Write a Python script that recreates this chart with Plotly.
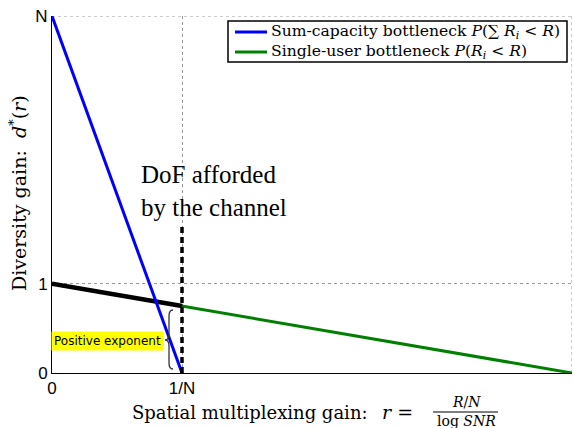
import plotly.graph_objects as go

N = 4
# Sum-capacity bottleneck line
r_sum = [0, 0.25]
d_sum = [4, 0]
# Single-user bottleneck line
r_single = [0, 1]
d_single = [1, 0]
# Overall DMT (black, thick)
r_opt = [0, 0.25]
d_opt = [1, 0.75]
# DoF afforded by the channel (dashed)
r_dof = [0.25, 0.25]
d_dof = [0, 1.66]

x_tickvals = [0, 0.25, 1]
x_ticktext = ["0", "1/N", "1"]
y_tickvals = [0, 1, 4]
y_ticktext = ["0", "1", "N"]

series_names = ["Sum-capacity bottleneck <i>P</i>(∑ <i>R<sub>i</sub></i> &lt; <i>R</i>)",
                "Single-user bottleneck <i>P</i>(<i>R<sub>i</sub></i> &lt; <i>R</i>)"]
series_colors = ["#0000ff", "#008000"]

W, H = 574, 428
L, R, T, B = 52, 2, 16, 55
pw, ph = W - L - R, H - T - B

def px(x):
    return (x - L) / pw

def py(y):
    return (H - B - y) / ph

TIMES = "Liberation Serif, Times New Roman, serif"
CM = "DejaVu Serif, serif"
SANS = "Liberation Sans, Arial, sans-serif"

fig = go.Figure()
fig.add_trace(go.Scatter(x=r_single, y=d_single, mode="lines",
                         line=dict(color=series_colors[1], width=3),
                         name=series_names[1], showlegend=False))
fig.add_trace(go.Scatter(x=r_opt, y=d_opt, mode="lines",
                         line=dict(color="black", width=4.5), showlegend=False))
fig.add_trace(go.Scatter(x=r_sum, y=d_sum, mode="lines",
                         line=dict(color=series_colors[0], width=3),
                         name=series_names[0], showlegend=False))
fig.add_trace(go.Scatter(x=r_dof, y=d_dof, mode="lines",
                         line=dict(color="black", width=3.5, dash="6px,4px"),
                         showlegend=False))

annotations = []
shapes = []

# Legend (drawn as a box with samples and labels)
shapes.append(dict(type="rect", xref="paper", yref="paper",
                   x0=px(228), x1=px(567), y0=py(62), y1=py(21),
                   fillcolor="white", line=dict(color="black", width=1.5), layer="above"))
for i, (nm, col) in enumerate(zip(series_names, series_colors)):
    yc = 32 + 20 * i
    shapes.append(dict(type="line", xref="paper", yref="paper",
                       x0=px(235), x1=px(267), y0=py(yc), y1=py(yc),
                       line=dict(color=col, width=3), layer="above"))
    annotations.append(dict(xref="paper", yref="paper", x=px(269), y=py(yc),
                            xanchor="left", yanchor="middle", showarrow=False,
                            text=nm, font=dict(family=CM, size=15.6, color="black")))

# DoF text
annotations.append(dict(xref="paper", yref="paper", x=px(139), y=py(191),
                        xanchor="left", yanchor="middle", showarrow=False, align="left",
                        text="DoF afforded<br>by the channel",
                        font=dict(family=TIMES, size=25, color="black")))
# Positive exponent box
annotations.append(dict(xref="paper", yref="paper", x=px(107), y=py(341),
                        xanchor="center", yanchor="middle", showarrow=False,
                        text="Positive exponent", bgcolor="#ffff00",
                        borderpad=2,
                        font=dict(family="DejaVu Sans", size=12, color="black")))
# Brace (thin curly bracket)
bx, by_top, by_mid, by_bot = 173, 310, 340, 369
spine, tip = 169, 165
pts = lambda x, y: f"{px(x):.5f},{py(y):.5f}"
brace_path = (f"M {pts(bx, by_top)} Q {pts(spine, by_top)} {pts(spine, by_top + 6)} "
              f"L {pts(spine, by_mid - 6)} Q {pts(spine, by_mid)} {pts(tip, by_mid)} "
              f"Q {pts(spine, by_mid)} {pts(spine, by_mid + 6)} "
              f"L {pts(spine, by_bot - 6)} Q {pts(spine, by_bot)} {pts(bx, by_bot)}")
shapes.append(dict(type="path", xref="paper", yref="paper", path=brace_path,
                   line=dict(color="#333333", width=1.3)))

# Y title
annotations.append(dict(xref="paper", yref="paper", x=px(18), y=py(193),
                        xanchor="center", yanchor="middle", showarrow=False, textangle=-90,
                        text="Diversity gain:  <i>d</i><sup>*</sup>(<i>r</i>)",
                        font=dict(family=CM, size=19, color="black")))
# X title
annotations.append(dict(xref="paper", yref="paper", x=px(370), y=py(412),
                        xanchor="right", yanchor="middle", showarrow=False,
                        text="Spatial multiplexing gain:",
                        font=dict(family=CM, size=18, color="black")))
annotations.append(dict(xref="paper", yref="paper", x=px(380), y=py(412),
                        xanchor="left", yanchor="middle", showarrow=False,
                        text="<i>r</i> =",
                        font=dict(family=CM, size=19, color="black")))
annotations.append(dict(xref="paper", yref="paper", x=px(466), y=py(402),
                        xanchor="center", yanchor="middle", showarrow=False,
                        text="<i>R</i>/<i>N</i>",
                        font=dict(family=CM, size=14, color="black")))
annotations.append(dict(xref="paper", yref="paper", x=px(466), y=py(421),
                        xanchor="center", yanchor="middle", showarrow=False,
                        text="log <i>SNR</i>",
                        font=dict(family=CM, size=14, color="black")))

shapes.append(dict(type="line", xref="paper", yref="paper",
                   x0=px(433), x1=px(498), y0=py(412), y1=py(412),
                   line=dict(color="black", width=1)))
# grid lines at the far edges of the plot
shapes.append(dict(type="line", xref="x", yref="y",
                   x0=x_tickvals[-1], x1=x_tickvals[-1], y0=y_tickvals[0], y1=y_tickvals[-1],
                   line=dict(color="#999999", width=1, dash="dot"), layer="below"))
shapes.append(dict(type="line", xref="x", yref="y",
                   x0=x_tickvals[0], x1=x_tickvals[-1], y0=y_tickvals[-1], y1=y_tickvals[-1],
                   line=dict(color="#999999", width=1, dash="dot"), layer="below"))

fig.update_layout(
    width=W, height=H,
    margin=dict(l=L, r=R, t=T, b=B),
    paper_bgcolor="white", plot_bgcolor="white",
    showlegend=False,
    annotations=annotations,
    shapes=shapes,
    xaxis=dict(range=[0, 1], tickvals=x_tickvals, ticktext=x_ticktext,
               showline=True, linecolor="black", linewidth=1,
               ticks="inside", ticklen=4, tickcolor="black",
               showgrid=True, gridcolor="#999999", griddash="dot", gridwidth=1,
               zeroline=False, tickfont=dict(family=SANS, size=17, color="black")),
    yaxis=dict(range=[0, 4], tickvals=y_tickvals, ticktext=y_ticktext,
               showline=True, linecolor="black", linewidth=1,
               ticks="inside", ticklen=4, tickcolor="black",
               showgrid=True, gridcolor="#999999", griddash="dot", gridwidth=1,
               zeroline=False, tickfont=dict(family=SANS, size=17, color="black")),
)

fig.write_html("out.html")
